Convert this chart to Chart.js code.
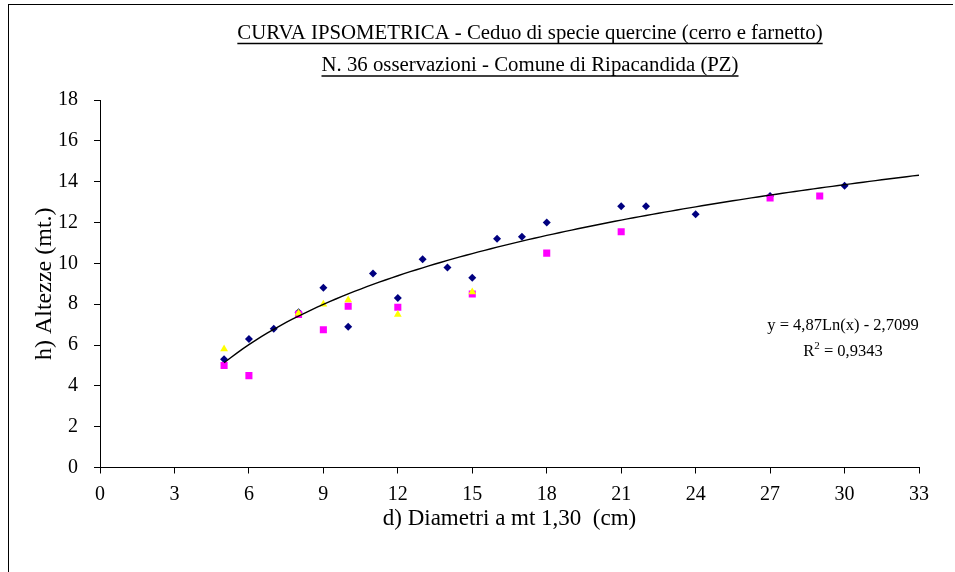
<!DOCTYPE html>
<html lang="it">
<head>
    <meta charset="UTF-8">
    <title>Curva ipsometrica</title>
    <script src="https://cdn.jsdelivr.net/npm/chart.js"></script>
    <style>
        body {
            margin: 0;
            background: #fff;
            overflow: hidden;
        }
        .frame {
            position: absolute;
            left: 8px;
            top: 4px;
            width: 944px;
            height: 600px;
            border-left: 1px solid #000;
            border-top: 1px solid #000;
        }
        #chart {
            position: absolute;
            left: 0;
            top: 0;
        }
    </style>
</head>
<body>
    <div class="frame"></div>
    <canvas id="chart" width="955" height="572"></canvas>

    <script>
        // diametri (cm) e altezze (mt.)
        const navyX = [5, 6, 7, 8, 9, 10, 11, 12, 13, 14, 15, 16, 17, 18, 21, 22, 24, 27, 30];
        const navyY = [5.3, 6.3, 6.8, 7.6, 8.8, 6.9, 9.5, 8.3, 10.2, 9.8, 9.3, 11.2, 11.3, 12.0, 12.8, 12.8, 12.4, 13.3, 13.8];

        const magentaX = [5, 6, 8, 9, 10, 12, 15, 18, 21, 27, 29];
        const magentaY = [5.0, 4.5, 7.5, 6.75, 7.9, 7.85, 8.5, 10.5, 11.55, 13.2, 13.3];

        const yellowX = [5, 8, 9, 10, 12, 15];
        const yellowY = [5.8, 7.55, 8.0, 8.2, 7.5, 8.6];

        // linea di tendenza logaritmica: y = 4,87 Ln(x) - 2,7099
        const fitA = 4.87;
        const fitB = -2.7099;
        const fitFrom = 5;
        const fitTo = 33;

        const titleLines = [
            'CURVA IPSOMETRICA - Ceduo di specie quercine (cerro e farnetto)',
            'N. 36 osservazioni - Comune di Ripacandida (PZ)'
        ];
        const eqLines = ['y = 4,87Ln(x) - 2,7099', '= 0,9343'];

        function pts(xs, ys) {
            return xs.map((x, i) => ({ x: x, y: ys[i] }));
        }

        const trend = [];
        for (let x = fitFrom; x <= fitTo + 1e-9; x += 0.25) {
            trend.push({ x: x, y: fitA * Math.log(x) + fitB });
        }

        const serif = '"Liberation Serif", "Times New Roman", serif';

        // titolo sottolineato ed equazione
        const textPlugin = {
            id: 'texts',
            afterDraw(chart) {
                const ctx = chart.ctx;
                ctx.save();
                ctx.fillStyle = '#000';
                ctx.strokeStyle = '#000';
                ctx.lineWidth = 1.3;
                ctx.font = '20.8px ' + serif;
                ctx.textAlign = 'center';
                ctx.textBaseline = 'alphabetic';
                const cx = 530;
                const base = [38.5, 71];
                titleLines.forEach((t, i) => {
                    ctx.fillText(t, cx, base[i]);
                    const w = ctx.measureText(t).width;
                    ctx.beginPath();
                    ctx.moveTo(cx - w / 2, base[i] + 5);
                    ctx.lineTo(cx + w / 2, base[i] + 5);
                    ctx.stroke();
                });

                ctx.font = '16.5px ' + serif;
                ctx.fillText(eqLines[0], 843, 330);
                // R² con apice
                const r = 'R';
                const rest = ' ' + eqLines[1];
                const wR = ctx.measureText(r).width;
                const wRest = ctx.measureText(rest).width;
                ctx.font = '11px ' + serif;
                const wSup = ctx.measureText('2').width;
                const x0 = 843 - (wR + wSup + wRest) / 2;
                ctx.textAlign = 'left';
                ctx.font = '16.5px ' + serif;
                ctx.fillText(r, x0, 356);
                ctx.font = '11px ' + serif;
                ctx.fillText('2', x0 + wR, 349);
                ctx.font = '16.5px ' + serif;
                ctx.fillText(rest, x0 + wR + wSup, 356);
                ctx.restore();
            }
        };

        new Chart(document.getElementById('chart'), {
            type: 'scatter',
            data: {
                datasets: [
                    {
                        label: 'trend',
                        type: 'line',
                        data: trend,
                        borderColor: '#000',
                        borderWidth: 1.4,
                        pointRadius: 0,
                        fill: false,
                        tension: 0,
                        order: 0
                    },
                    {
                        label: 'serie 3',
                        data: pts(yellowX, yellowY),
                        pointStyle: 'triangle',
                        pointRadius: 4.5,
                        backgroundColor: '#ffff00',
                        borderWidth: 0,
                        order: 1
                    },
                    {
                        label: 'serie 2',
                        data: pts(magentaX, magentaY),
                        pointStyle: 'rect',
                        pointRadius: 5,
                        backgroundColor: '#ff00ff',
                        borderWidth: 0,
                        order: 2
                    },
                    {
                        label: 'serie 1',
                        data: pts(navyX, navyY),
                        pointStyle: 'rectRot',
                        pointRadius: 4,
                        backgroundColor: '#000080',
                        borderWidth: 0,
                        order: 3
                    }
                ]
            },
            options: {
                responsive: false,
                animation: false,
                layout: { padding: { top: 100, right: 36, left: 26.6, bottom: 35.2 } },
                plugins: {
                    legend: { display: false },
                    tooltip: { enabled: false }
                },
                scales: {
                    x: {
                        type: 'linear',
                        min: 0,
                        max: 33,
                        afterFit(scale) { scale.height = 69.3; },
                        ticks: {
                            stepSize: 3,
                            color: '#000',
                            padding: 9,
                            font: { family: serif, size: 20 }
                        },
                        grid: { drawOnChartArea: false, drawTicks: true, tickLength: 6, color: '#000' },
                        border: { display: true, color: '#000', width: 1 },
                        title: {
                            display: true,
                            text: 'd) Diametri a mt 1,30  (cm)',
                            color: '#000',
                            font: { family: serif, size: 23 }
                        }
                    },
                    y: {
                        min: 0,
                        max: 18,
                        afterFit(scale) { scale.width = 73.4; },
                        ticks: {
                            stepSize: 2,
                            color: '#000',
                            padding: 16,
                            font: { family: serif, size: 20 }
                        },
                        grid: { drawOnChartArea: false, drawTicks: true, tickLength: 6, color: '#000' },
                        border: { display: true, color: '#000', width: 1 },
                        title: {
                            display: true,
                            text: 'h) Altezze (mt.)',
                            color: '#000',
                            font: { family: serif, size: 24 }
                        }
                    }
                }
            },
            plugins: [textPlugin]
        });
    </script>
</body>
</html>
